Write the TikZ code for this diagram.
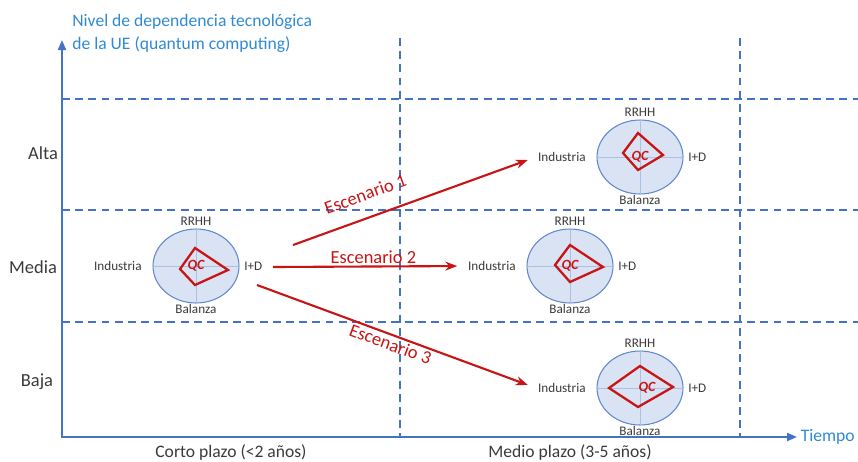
\documentclass[tikz,border=0pt]{standalone}
\usepackage{fontspec}
\setmainfont{Carlito}
\usetikzlibrary{arrows.meta,positioning,shapes.geometric}
\definecolor{ejeazul}{HTML}{4472C4}
\definecolor{textoazul}{HTML}{2F8AD6}
\definecolor{fondoazul}{HTML}{DAE3F3}
\definecolor{rojo}{HTML}{C81414}
\definecolor{gris}{HTML}{3A3A3A}

\begin{document}
\begin{tikzpicture}[x=0.02cm, y=-0.02cm,
	eje/.style={ejeazul, line width=1.2pt},
	rejilla/.style={ejeazul, line width=1.1pt, dash pattern=on 4.5pt off 3pt},
	radar/.style={ellipse, draw=ejeazul!85, fill=fondoazul, line width=0.6pt, minimum width=1.72cm, minimum height=1.48cm, inner sep=0pt},
	cruz/.style={ejeazul!45, line width=0.5pt},
	perfil/.style={rojo, line width=1.3pt},
	lab/.style={font=\fontsize{7.5}{9}\selectfont, text=gris, inner sep=1pt},
	qc/.style={font=\fontsize{8}{9}\selectfont\bfseries\itshape, text=rojo, inner sep=0pt},
	nivel/.style={font=\fontsize{10.5}{12}\selectfont, text=gris},
	plazo/.style={font=\fontsize{10}{12}\selectfont, text=gris},
	esc/.style={-{Stealth[length=2.4mm, width=1.8mm]}, rojo, line width=1.2pt},
	esclab/.style={font=\fontsize{10.5}{12}\selectfont, text=rojo, sloped, inner sep=1pt}
	]
	\useasboundingbox (0,0) rectangle (858,461);

	\draw[rejilla] (62,99) -- (858,99);
	\draw[rejilla] (62,210) -- (858,210);
	\draw[rejilla] (62,322) -- (858,322);
	\draw[rejilla] (400,38) -- (400,437);
	\draw[rejilla] (740,38) -- (740,437);

	\coordinate (ytope) at (62,40);
	\coordinate (xtope) at (797,437);
	\draw[eje, {Triangle[length=2mm, width=1.6mm]}-{Triangle[length=2mm, width=1.6mm]}] (ytope) |- (xtope);

	\node[font=\fontsize{10}{13}\selectfont, text=textoazul, anchor=west, align=left, inner sep=0pt] (titulo) at (72,33) {Nivel de dependencia tecnológica\\de la UE (quantum computing)};
	\node[font=\fontsize{10}{12}\selectfont, text=textoazul, right=1pt of xtope, inner sep=1pt] (tiempo) {Tiempo};

	\node[nivel] (alta) at (43,153) {Alta};
	\node[nivel] (media) at (33,267) {Media};
	\node[nivel] (baja) at (37,382) {Baja};
	\node[plazo] (corto) at (231,452) {Corto plazo (<2 años)};
	\node[plazo] (medio) at (570,452) {Medio plazo (3-5 años)};

	\node[radar] (r0) at (196,266) {};
	\draw[cruz] (r0.north) -- (r0.south) (r0.west) -- (r0.east);
	\draw[perfil, shift={(r0)}] (-1,-18) -- (32,4) -- (-1,19) -- (-16,3) -- cycle;
	\node[qc] (qc0) at (r0) {QC};
	\node[lab, above=0.5pt of r0] (rrhh0) {RRHH};
	\node[lab, below=-1pt of r0] (bal0) {Balanza};
	\node[lab, left=5pt of r0] (ind0) {Industria};
	\node[lab, right=1.5pt of r0] (id0) {I+D};

	\node[radar] (r1) at (640,157) {};
	\draw[cruz] (r1.north) -- (r1.south) (r1.west) -- (r1.east);
	\draw[perfil, shift={(r1)}] (-2,-24) -- (23,-2) -- (-2,13) -- (-17,-4) -- cycle;
	\node[qc] (qc1) at (r1) {QC};
	\node[lab, above=0.5pt of r1] (rrhh1) {RRHH};
	\node[lab, below=-1pt of r1] (bal1) {Balanza};
	\node[lab, left=5pt of r1] (ind1) {Industria};
	\node[lab, right=1.5pt of r1] (id1) {I+D};

	\node[radar] (r2) at (570,266) {};
	\draw[cruz] (r2.north) -- (r2.south) (r2.west) -- (r2.east);
	\draw[perfil, shift={(r2)}] (0,-21) -- (33,1) -- (0,16) -- (-15,-1) -- cycle;
	\node[qc] (qc2) at (r2) {QC};
	\node[lab, above=0.5pt of r2] (rrhh2) {RRHH};
	\node[lab, below=-1pt of r2] (bal2) {Balanza};
	\node[lab, left=5pt of r2] (ind2) {Industria};
	\node[lab, right=1.5pt of r2] (id2) {I+D};

	\node[radar] (r3) at (640,388) {};
	\draw[cruz] (r3.north) -- (r3.south) (r3.west) -- (r3.east);
	\draw[perfil, shift={(r3)}] (0,-22) -- (33,-1) -- (-2,19) -- (-31,0) -- cycle;
	\node[qc] (qc3) at ([xshift=4pt]r3) {QC};
	\node[lab, above=0.5pt of r3] (rrhh3) {RRHH};
	\node[lab, below=-1pt of r3] (bal3) {Balanza};
	\node[lab, left=5pt of r3] (ind3) {Industria};
	\node[lab, right=1.5pt of r3] (id3) {I+D};

	\coordinate (s1) at (293,245);
	\coordinate (s2) at (273,267);
	\coordinate (s3) at (257,285);
	\path (s1) edge[esc, shorten >=5pt] node[esclab, pos=0.33, above=8pt] {Escenario 1} (ind1.west);
	\path (s2) edge[esc, shorten >=5pt] node[esclab, pos=0.52, above] {Escenario 2} (ind2.west);
	\path (s3) edge[esc, shorten >=5pt] node[esclab, pos=0.49, below] {Escenario 3} (ind3.west);

\end{tikzpicture}
\end{document}
